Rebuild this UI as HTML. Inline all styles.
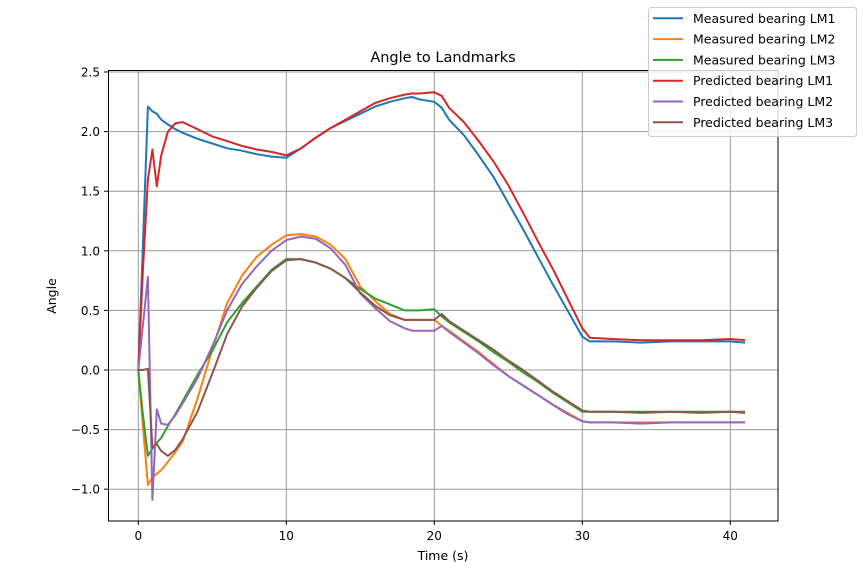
<!DOCTYPE html>
<html><head><meta charset="utf-8"><style>
body{margin:0;background:#fff;}
svg{display:block;font-family:"DejaVu Sans","Liberation Sans",sans-serif;}
</style></head><body>
<svg id="chart" width="864" height="585">
<rect width="864" height="585" fill="#fff"/>
<g id="grid"></g>
<g id="series"></g>
<rect x="108.5" y="70.5" width="669.5" height="450.5" fill="none" stroke="#000" stroke-width="1"/>
<g id="ticks"></g>
<text x="443" y="62" text-anchor="middle" font-size="14.5">Angle to Landmarks</text>
<text x="443" y="560" text-anchor="middle" font-size="12.5">Time (s)</text>
<text x="56" y="296" text-anchor="middle" font-size="12.5" transform="rotate(-90 56 296)">Angle</text>
<g id="legend"></g>
</svg>
<script>
const times=[0,0.3,0.65,0.95,1.25,1.55,2,2.5,3,4,5,6,7,8,9,10,11,12,13,14,15,16,17,18,18.5,19,20,20.5,21,22,23,24,25,26,27,28,29,30,30.5,32,34,36,38,40,41];
const measuredLM1=[0,1.0,2.21,2.17,2.15,2.10,2.06,2.02,1.99,1.94,1.90,1.86,1.84,1.81,1.79,1.78,1.86,1.95,2.03,2.09,2.15,2.21,2.25,2.28,2.29,2.27,2.25,2.20,2.10,1.97,1.80,1.62,1.40,1.18,0.95,0.72,0.50,0.28,0.24,0.24,0.23,0.24,0.24,0.24,0.23];
const measuredLM2=[0,-0.45,-0.965,-0.90,-0.87,-0.84,-0.77,-0.69,-0.60,-0.24,0.17,0.56,0.79,0.95,1.05,1.13,1.14,1.12,1.05,0.93,0.70,0.58,0.47,0.42,0.42,0.42,0.42,0.37,0.33,0.24,0.15,0.05,-0.05,-0.13,-0.21,-0.29,-0.36,-0.43,-0.44,-0.44,-0.44,-0.44,-0.44,-0.44,-0.44];
const measuredLM3=[0,-0.36,-0.72,-0.66,-0.61,-0.57,-0.47,-0.37,-0.26,-0.04,0.16,0.40,0.56,0.70,0.84,0.93,0.93,0.90,0.85,0.77,0.68,0.60,0.55,0.50,0.50,0.50,0.51,0.45,0.40,0.32,0.24,0.15,0.07,-0.02,-0.10,-0.19,-0.27,-0.35,-0.35,-0.35,-0.35,-0.35,-0.35,-0.35,-0.35];
const predictedLM1=[0,0.8,1.6,1.85,1.54,1.80,2.0,2.07,2.08,2.02,1.96,1.92,1.88,1.85,1.83,1.80,1.86,1.95,2.03,2.10,2.17,2.24,2.28,2.31,2.32,2.32,2.33,2.30,2.20,2.08,1.92,1.75,1.55,1.32,1.08,0.85,0.60,0.35,0.27,0.26,0.25,0.25,0.25,0.26,0.25];
const predictedLM2=[0,0.36,0.78,-1.09,-0.33,-0.45,-0.46,-0.38,-0.28,-0.07,0.20,0.50,0.72,0.87,1.00,1.09,1.12,1.10,1.02,0.88,0.64,0.52,0.41,0.35,0.33,0.33,0.33,0.37,0.32,0.23,0.14,0.04,-0.05,-0.13,-0.21,-0.29,-0.37,-0.43,-0.44,-0.44,-0.45,-0.44,-0.44,-0.44,-0.44];
const predictedLM3=[0,0,0.01,-0.65,-0.62,-0.68,-0.72,-0.67,-0.58,-0.35,-0.03,0.30,0.53,0.69,0.83,0.92,0.93,0.90,0.85,0.77,0.65,0.54,0.46,0.42,0.42,0.42,0.42,0.47,0.41,0.33,0.25,0.17,0.08,0,-0.09,-0.18,-0.26,-0.34,-0.35,-0.35,-0.36,-0.35,-0.36,-0.35,-0.36];
const seriesNames=["Measured bearing LM1","Measured bearing LM2","Measured bearing LM3","Predicted bearing LM1","Predicted bearing LM2","Predicted bearing LM3"];
const xTicks=[0,10,20,30,40];
const yTicks=[-1.0,-0.5,0.0,0.5,1.0,1.5,2.0,2.5];

const colors=["#1f77b4","#ff7f0e","#2ca02c","#d62728","#9467bd","#8c564b"];
const allSeries=[measuredLM1,measuredLM2,measuredLM3,predictedLM1,predictedLM2,predictedLM3];
const NS="http://www.w3.org/2000/svg";
function xs(t){return 138.3+14.8*t;}
function ys(v){return 370-119.2*v;}
function mk(tag,attrs,parent){const e=document.createElementNS(NS,tag);for(const k in attrs)e.setAttribute(k,attrs[k]);parent.appendChild(e);return e;}
const grid=document.getElementById('grid'),ticks=document.getElementById('ticks');
xTicks.forEach(t=>{
  const x=xs(t);
  const g=mk('line',{x1:x,x2:x,y1:70.5,y2:521,stroke:'#999','stroke-width':1},grid);
  
  
  mk('line',{x1:x,x2:x,y1:521,y2:525,stroke:'#000'},ticks);
  const lb=mk('text',{x:x,y:540,'text-anchor':'middle','font-size':12},ticks);
  lb.textContent=String(t);
  
  
});
yTicks.forEach(v=>{
  const y=ys(v);
  const g=mk('line',{x1:108.5,x2:778,y1:y,y2:y,stroke:'#999','stroke-width':1},grid);
  
  
  mk('line',{x1:104,x2:108.5,y1:y,y2:y,stroke:'#000'},ticks);
  const lb=mk('text',{x:100,y:y+4.5,'text-anchor':'end','font-size':12},ticks);
  lb.textContent=(v<0?'\u2212'+Math.abs(v).toFixed(1):v.toFixed(1));
  
  
});
const sg=document.getElementById('series');
allSeries.forEach((vals,i)=>{
  const pts=vals.map((v,j)=>xs(times[j]).toFixed(1)+','+ys(v).toFixed(1)).join(' ');
  const pl=mk('polyline',{points:pts,fill:'none',stroke:colors[i],'stroke-width':2,'stroke-linejoin':'round'},sg);
  
  
});
const lg=document.getElementById('legend');
mk('rect',{x:648.5,y:7.5,width:208,height:129,rx:3,fill:'#fff','fill-opacity':0.8,stroke:'#ccc'},lg);
seriesNames.forEach((n,i)=>{
  const y=18.3+20.8*i;
  const g=mk('g',{},lg);
  
  
  mk('line',{x1:653,x2:683,y1:y,y2:y,stroke:colors[i],'stroke-width':2},g);
  const t=mk('text',{x:693,y:y+4.5,'font-size':12.5},g);
  t.textContent=n;
});
</script>
</body></html>
